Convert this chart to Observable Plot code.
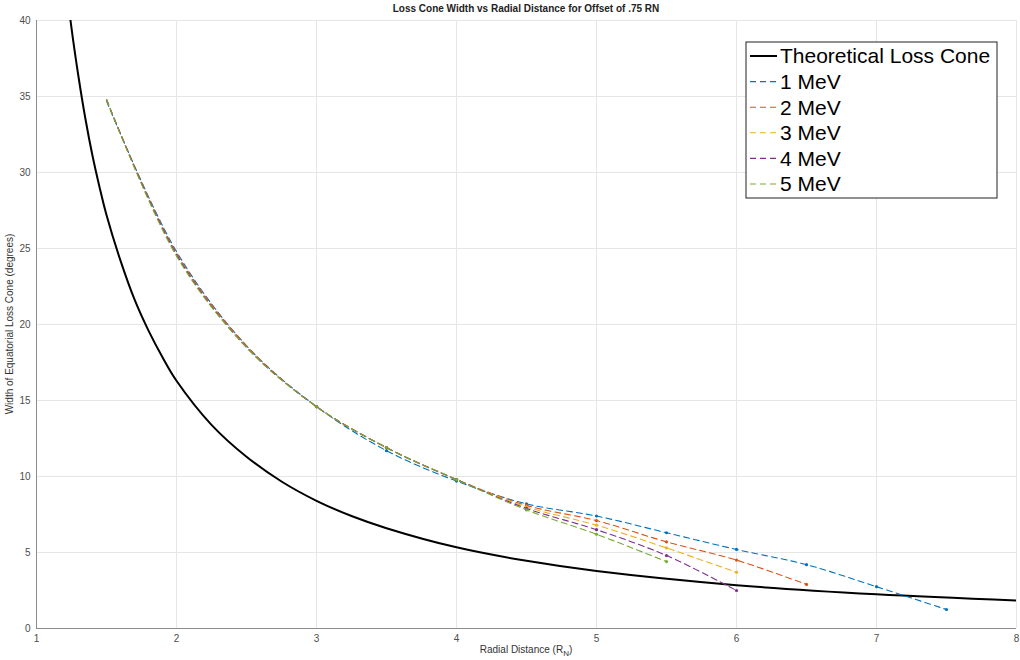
<!DOCTYPE html>
<html>
<head>
<meta charset="utf-8">
<script src="https://cdn.jsdelivr.net/npm/d3@7"></script>
<script src="https://cdn.jsdelivr.net/npm/@observablehq/plot@0.6"></script>
<style>
  body { margin: 0; background: #fff; }
  #chart svg { display: block; }
</style>
</head>
<body>
<div id="chart"></div>
<script>
// ---- data ----
const titleText = "Loss Cone Width vs Radial Distance for Offset of .75 RN";
const seriesNames = ["1 MeV", "2 MeV", "3 MeV", "4 MeV", "5 MeV"];
const seriesColors = ["#0072BD", "#D95319", "#EDB120", "#7E2F8E", "#77AC30"];

const theoryX = [1.2, 1.25, 1.3, 1.35, 1.4, 1.45, 1.5, 1.6, 1.7, 1.8, 1.9, 2, 2.25, 2.5, 2.75, 3, 3.25, 3.5, 4, 4.5, 5, 6, 7, 8];
const theoryY = [43.4, 39.5, 36.3, 33.5, 31.1, 29.05, 27.2, 24.2, 21.65, 19.6, 17.85, 16.3, 13.4, 11.3, 9.67, 8.4, 7.4, 6.6, 5.34, 4.45, 3.78, 2.85, 2.25, 1.84];

const radialX = [1.5, 2, 2.5, 3, 3.5, 4, 4.5, 5, 5.5, 6, 6.5, 7, 7.5];
const mev1 = [34.7, 24.8, 18.6, 14.6, 11.7, 9.7, 8.2, 7.4, 6.3, 5.2, 4.2, 2.75, 1.25];
const mev2 = [34.8, 24.7, 18.6, 14.6, 11.9, 9.8, 8.1, 7.1, 5.7, 4.5, 2.9];
const mev3 = [34.8, 24.6, 18.5, 14.6, 11.9, 9.8, 8.0, 6.8, 5.3, 3.7];
const mev4 = [34.8, 24.6, 18.5, 14.6, 11.9, 9.8, 7.9, 6.5, 4.8, 2.5];
const mev5 = [34.8, 24.5, 18.5, 14.6, 11.9, 9.8, 7.8, 6.2, 4.4];

const xTicks = [1, 2, 3, 4, 5, 6, 7, 8];
const yTicks = [0, 5, 10, 15, 20, 25, 30, 35, 40];

// ---- build tables ----
const theory = theoryX.map((x, i) => ({x, y: theoryY[i]}));
const allSeries = [mev1, mev2, mev3, mev4, mev5];
const energy = [];
allSeries.forEach((vals, s) => vals.forEach((y, i) => energy.push({x: radialX[i], y, s: seriesNames[s]})));

const W = 1020, H = 660;
const mL = 36, mR = 4, mT = 20, mB = 32;

const plot = Plot.plot({
  width: W, height: H,
  marginLeft: mL, marginRight: mR, marginTop: mT, marginBottom: mB,
  style: {fontFamily: "'Liberation Sans', Arial, sans-serif", fontSize: "10px", color: "#4d4d4d", background: "#fff"},
  x: {type: "linear", domain: [1, 8], ticks: xTicks, tickSize: 0, tickPadding: 6, label: null, tickFormat: d3.format("d")},
  y: {type: "linear", domain: [0, 40], ticks: yTicks, tickSize: 0, tickPadding: 6, label: null, tickFormat: d3.format("d")},
  color: {domain: seriesNames, range: seriesColors},
  marks: [
    Plot.gridX(xTicks, {stroke: "#e6e6e6", strokeOpacity: 1}),
    Plot.gridY(yTicks, {stroke: "#e6e6e6", strokeOpacity: 1}),
    Plot.ruleX([1], {stroke: "#8c8c8c"}),
    Plot.ruleY([0], {stroke: "#8c8c8c"}),
    Plot.line(theory, {x: "x", y: "y", stroke: "#000", strokeWidth: 2, curve: "catmull-rom", clip: true}),
    Plot.line(energy, {x: "x", y: "y", z: "s", stroke: "s", strokeWidth: 1.1, strokeDasharray: "6,4", curve: "catmull-rom"}),
    Plot.dot(energy.filter(d => d.x >= 3), {x: "x", y: "y", fill: "s", r: 1.6, stroke: null})
  ]
});

document.getElementById("chart").appendChild(plot);

const svg = d3.select(plot);
const font = "'Liberation Sans', Arial, sans-serif";

// title
svg.append("text").attr("x", (mL + W - mR) / 2).attr("y", 12)
  .attr("text-anchor", "middle").attr("font-family", font).attr("font-weight", "bold")
  .attr("font-size", 10).attr("fill", "#222").text(titleText);

// y label
svg.append("text").attr("transform", `translate(13,${(mT + H - mB) / 2}) rotate(-90)`)
  .attr("text-anchor", "middle").attr("font-family", font).attr("font-size", 10)
  .attr("fill", "#333").text("Width of Equatorial Loss Cone (degrees)");

// x label with subscript
const xl = svg.append("text").attr("x", (mL + W - mR) / 2).attr("y", H - 7)
  .attr("text-anchor", "middle").attr("font-family", font).attr("font-size", 10).attr("fill", "#333");
xl.append("tspan").text("Radial Distance (R");
xl.append("tspan").attr("font-size", 8).attr("dy", 3).text("N");
xl.append("tspan").attr("dy", -3).text(")");

// legend
const lg = svg.append("g");
const lx = 746, ly = 42, lw = 251, lh = 156;
lg.append("rect").attr("x", lx).attr("y", ly).attr("width", lw).attr("height", lh)
  .attr("fill", "#fff").attr("stroke", "#222").attr("stroke-width", 1);
const entries = [{name: "Theoretical Loss Cone", color: "#000", dash: null, w: 2}]
  .concat(seriesNames.map((n, i) => ({name: n, color: seriesColors[i], dash: "6,4", w: 1.1})));
entries.forEach((e, i) => {
  const cy = ly + 14 + i * 25.6;
  lg.append("line").attr("x1", lx + 4).attr("x2", lx + 31).attr("y1", cy).attr("y2", cy)
    .attr("stroke", e.color).attr("stroke-width", e.w).attr("stroke-dasharray", e.dash);
  lg.append("text").attr("x", lx + 34).attr("y", cy).attr("dy", "0.35em").attr("text-anchor", "start")
    .attr("font-family", font).attr("font-size", 21).attr("fill", "#000").text(e.name);
});
</script>
</body>
</html>
